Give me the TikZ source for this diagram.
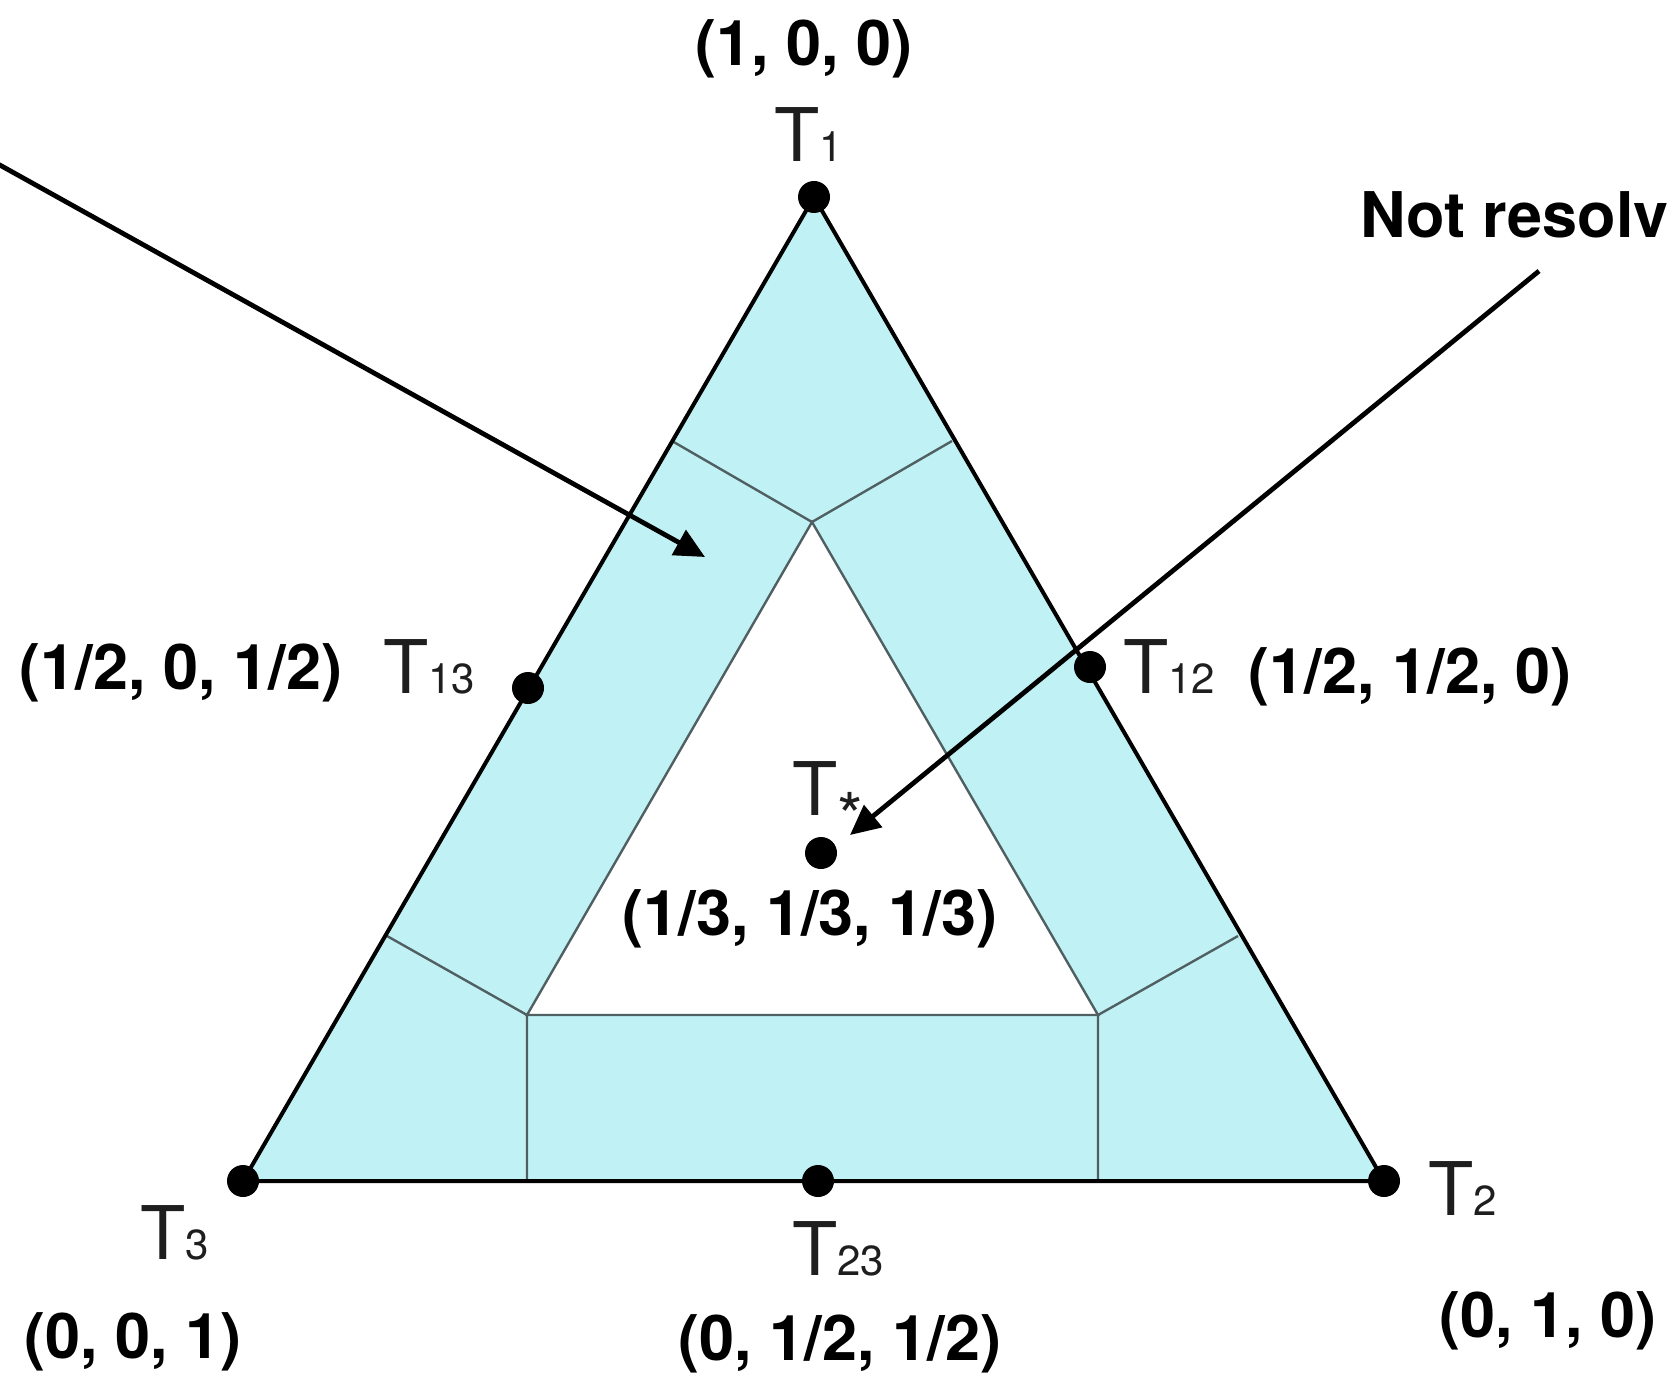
\documentclass[tikz,border=0pt]{standalone}
\usepackage{fontspec}
\setmainfont{TeX Gyre Heros}
\usetikzlibrary{arrows.meta}
\definecolor{band}{RGB}{192,242,245}
\definecolor{innerline}{RGB}{80,96,98}
\definecolor{tlab}{RGB}{30,30,30}
\newcommand\Tlab[1]{{\fontsize{37}{40}\selectfont T}{\fontsize{21}{24}\selectfont #1}}
\begin{document}
\begin{tikzpicture}[x=0.5pt,y=-0.5pt,
  dot/.style={circle,fill=black,inner sep=0pt,minimum size=16pt},
  coordlab/.style={font=\fontsize{31.5}{36}\selectfont\bfseries,inner sep=0pt,anchor=base},
  tlabel/.style={inner sep=0pt,anchor=base west,text=tlab},
  arr/.style={line width=2.4pt,-{Triangle[length=15pt,width=14pt]}},
  outline/.style={line width=2pt,line join=miter},
  divider/.style={line width=1.2pt,draw=innerline}]
\useasboundingbox[fill=white] (0,0) rectangle (1668,1374);
% key points
\coordinate (P1) at (814,197);
\coordinate (P2) at (1384,1181);
\coordinate (P3) at (243,1181);
\coordinate (A) at (812,522);
\coordinate (B) at (527,1015);
\coordinate (C) at (1098,1015);
\coordinate (L1) at (672,441);
\coordinate (R1) at (952,441);
\coordinate (L2) at (387,936);
\coordinate (R2) at (1238,936);
\coordinate (BL) at (527,1181);
\coordinate (BR) at (1098,1181);
% band fill
\fill[band] (P1) -- (P2) -- (P3) -- cycle;
\fill[white] (A) -- (B) -- (C) -- cycle;
% dividers
\draw[divider] (A) -- (B) -- (C) -- cycle;
\draw[divider] (L1) -- (A) -- (R1);
\draw[divider] (L2) -- (B) -- (BL);
\draw[divider] (R2) -- (C) -- (BR);
% outer triangle
\draw[outline] (P1) -- (P2) -- (P3) -- cycle;
% dots
\node[dot] (T1) at (P1) {};
\node[dot] (T2) at (P2) {};
\node[dot] (T3) at (P3) {};
\node[dot] (T12) at (1090,667) {};
\node[dot] (T13) at (528,688) {};
\node[dot] (T23) at (818,1181) {};
\node[dot] (Ts) at (821,853) {};
% T labels
\node[tlabel] (lT1) at (774,162) {\Tlab{1}};
\node[tlabel] (lT13) at (383,693) {\Tlab{13}};
\node[tlabel] (lT12) at (1123,693) {\Tlab{12}};
\node[tlabel] (lTs) at (792,815) {\Tlab{{\fontsize{33}{36}\selectfont\raisebox{-12.5pt}{*}}}};
\node[tlabel] (lT3) at (140,1259) {\Tlab{3}};
\node[tlabel] (lT23) at (792,1275) {\Tlab{23}};
\node[tlabel] (lT2) at (1428,1215) {\Tlab{2}};
% coordinate labels
\node[coordlab] (c1) at (804,66) {(1, 0, 0)};
\node[coordlab] (c13) at (181,689) {(1/2, 0, 1/2)};
\node[coordlab] (c12) at (1410,693) {(1/2, 1/2, 0)};
\node[coordlab] (cs) at (810,935) {(1/3, 1/3, 1/3)};
\node[coordlab] (c3) at (133,1358) {(0, 0, 1)};
\node[coordlab] (c23) at (840,1360) {(0, 1/2, 1/2)};
\node[coordlab] (c2) at (1548,1337) {(0, 1, 0)};
\node[coordlab,anchor=base west] (nr) at (1360,238) {Not resolv};
% arrows
\coordinate (aL0) at (-20,154);
\coordinate (aL1) at (705,557);
\coordinate (aR0) at (1539,271);
\coordinate (aR1) at (850,835);
\draw[arr] (aL0) -- (aL1);
\draw[arr] (aR0) -- (aR1);
\end{tikzpicture}
\end{document}
